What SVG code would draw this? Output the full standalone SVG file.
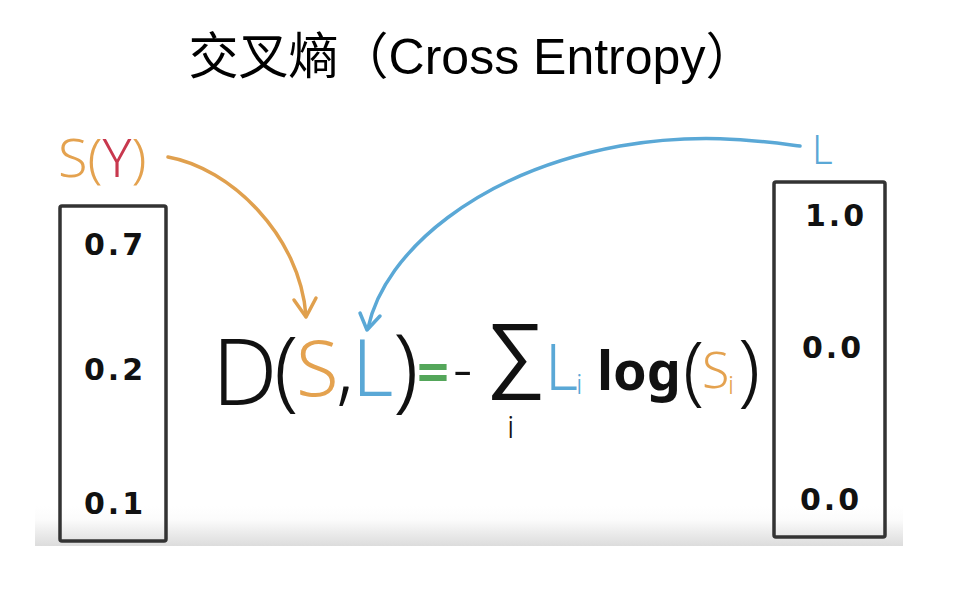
<svg xmlns="http://www.w3.org/2000/svg" width="960" height="590" viewBox="0 0 960 590">
<style>
.title{font-family:"Liberation Sans","Noto Sans CJK SC",sans-serif;font-size:50px;fill:#000}
.box{fill:none;stroke:#333;stroke-width:3.5}
.num{font-family:"DejaVu Sans",sans-serif;font-size:30px;font-weight:bold;fill:#111;text-anchor:middle;letter-spacing:3px}
.hw{font-family:"Noto Sans","DejaVu Sans",sans-serif;font-weight:300}
.orange{fill:#e4a24f}
.red{fill:#c8384e}
.blue{fill:#5aa8d6}
.green{fill:#54a65a}
.black{fill:#111}
.conn{fill:none;stroke-width:3.5;stroke-linecap:round;stroke-linejoin:round}
</style>
<defs>
<linearGradient id="shade" x1="0" y1="0" x2="0" y2="1">
<stop offset="0" stop-color="#ffffff"/>
<stop offset="0.35" stop-color="#fbfbfb"/>
<stop offset="1" stop-color="#dcdcdc"/>
</linearGradient>
</defs>
<rect width="960" height="590" fill="#ffffff"/>
<rect x="35" y="506" width="868" height="40" fill="url(#shade)"/>
<text class="title" x="472" y="74" text-anchor="middle">交叉熵（Cross Entropy）</text>

<g id="label-sy">
<text class="hw" x="58" y="177" font-size="54"><tspan class="orange">S(</tspan><tspan class="red">Y</tspan><tspan class="orange">)</tspan></text>
</g>
<g id="label-l">
<text class="hw blue" x="812" y="164" font-size="40">L</text>
</g>

<g id="box-s">
<rect class="box" x="60" y="206" width="106" height="335" rx="2"/>
<text class="num" x="115" y="255">0.7</text>
<text class="num" x="115" y="380">0.2</text>
<text class="num" x="115" y="514">0.1</text>
</g>

<g id="box-l">
<rect class="box" x="774" y="182" width="111" height="355" rx="2"/>
<text class="num" x="836" y="226">1.0</text>
<text class="num" x="833" y="358">0.0</text>
<text class="num" x="831" y="510">0.0</text>
</g>

<g id="formula" class="hw" font-size="92">
<text class="black" x="212" y="405">D</text>
<text class="black" x="274" y="400" font-size="88">(</text>
<text class="orange" x="296" y="396" font-size="78">S</text>
<text class="black" x="336" y="396" font-size="80">,</text>
<text class="blue" x="352" y="396" font-size="80">L</text>
<text class="black" x="393" y="400">)</text>
<text class="green" x="417" y="392" font-size="56" font-weight="bold">=</text>
<text class="black" x="453" y="390" font-size="60">-</text>
<text class="black" x="486" y="382" font-size="84">∑</text>
<text class="black" x="507" y="438" font-size="32">i</text>
<text class="blue" x="545" y="390" font-size="64">L</text>
<text class="blue" x="576" y="394" font-size="28">i</text>
<text class="black" x="597" y="390" font-size="54" font-weight="bold">log</text>
<text class="black" x="683" y="396" font-size="76">(</text>
<text class="orange" x="702" y="388" font-size="50">S</text>
<text class="orange" x="728" y="394" font-size="26">i</text>
<text class="black" x="738" y="396" font-size="80">)</text>
</g>

<g id="connectors">
<path class="conn" stroke="#e0a04e" d="M168,157 C230,168 300,235 306,316"/>
<path class="conn" stroke="#e0a04e" d="M294,300 L306,317 L316,298"/>
<path class="conn" stroke="#5aa8d6" d="M800,146 C760,141 700,132 620,146 C480,172 385,250 368,328"/>
<path class="conn" stroke="#5aa8d6" d="M360,313 L367,330 L380,316"/>
</g>
</svg>
